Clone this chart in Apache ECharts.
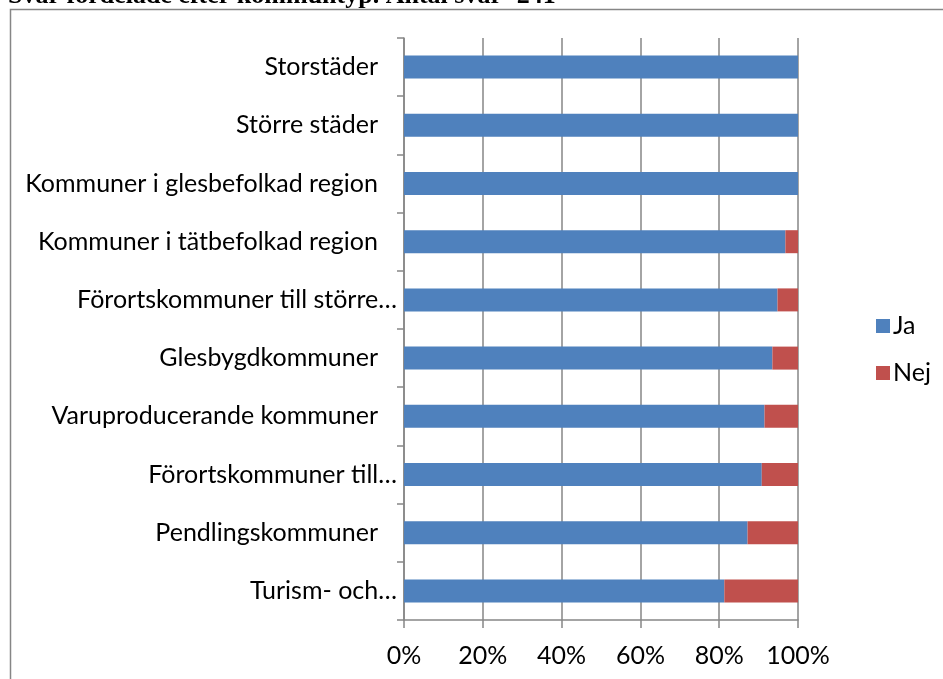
<!DOCTYPE html>
<html>
<head>
  <meta charset="utf-8">
  <title>Svar fördelade efter kommuntyp</title>
  <script src="https://cdn.jsdelivr.net/npm/echarts@6.0.0/dist/echarts.min.js"></script>
  <style>
    html, body { margin: 0; padding: 0; background: #fff; }
    #chart { width: 943px; height: 679px; }
  </style>
</head>
<body>
<div id="chart"></div>
<script>
// categories, top to bottom as shown
var categories = [
    "Storstäder",
    "Större städer",
    "Kommuner i glesbefolkad region",
    "Kommuner i tätbefolkad region",
    "Förortskommuner till större…",
    "Glesbygdkommuner",
    "Varuproducerande kommuner",
    "Förortskommuner till…",
    "Pendlingskommuner",
    "Turism- och…"
];
// share of answers, percent
var ja  = [100, 100, 100, 96.8, 94.8, 93.5, 91.5, 90.8, 87.2, 81.3];
var nej = [0, 0, 0, 3.2, 5.2, 6.5, 8.5, 9.2, 12.8, 18.7];
var xTicks = [0, 20, 40, 60, 80, 100];

var font = "Lato";
var gray = "#868686";
var size = 25;

var myChart = echarts.init(document.getElementById("chart"));
var option = {
    animation: false,
    textStyle: { fontFamily: font },
    grid: {
        left: 404,
        right: 145,
        top: 38,
        bottom: 59
    },
    graphic: [{
        type: "text",
        style: {
            x: 8,
            y: 9,
            text: "Svar fördelade efter kommuntyp. Antal svar=241",
            font: "bold 26px 'Liberation Serif'",
            fill: "#000",
            verticalAlign: "bottom"
        },
        silent: true
    }, {
        type: "rect",
        shape: { x: 10.5, y: 9.5, width: 1000, height: 1000 },
        style: { fill: "#fff", stroke: gray, lineWidth: 1.5 },
        silent: true,
        z: -10
    }],
    legend: {
        orient: "vertical",
        left: 871,
        top: 308,
        itemWidth: 14,
        itemHeight: 14,
        itemGap: 21,
        icon: "rect",
        textStyle: { fontFamily: font, fontSize: size, color: "#000", lineHeight: 26, padding: [0, 0, 0, -2] },
        data: ["Ja", "Nej"]
    },
    xAxis: {
        type: "value",
        min: xTicks[0],
        max: xTicks[xTicks.length - 1],
        interval: 20,
        axisLine: { show: true, lineStyle: { color: gray, width: 1.5 } },
        axisTick: { show: true, length: 8, lineStyle: { color: gray, width: 1.5 } },
        splitLine: { show: true, lineStyle: { color: gray, width: 1.5 } },
        axisLabel: {
            color: "#000",
            fontFamily: font,
            fontSize: size,
            margin: 23,
            formatter: function(v) { return v + "%"; }
        }
    },
    yAxis: {
        type: "category",
        inverse: true,
        data: categories,
        axisLine: { show: true, lineStyle: { color: gray, width: 1.5 } },
        axisTick: { show: true, length: 7, lineStyle: { color: gray, width: 1.5 } },
        axisLabel: {
            color: "#000",
            fontFamily: font,
            fontSize: size,
            margin: 7,
            formatter: function(v) {
                return v.slice(-1) === "…" ? "{t|" + v + "}" : "{f|" + v + "}";
            },
            rich: {
                t: { fontFamily: font, fontSize: size, color: "#000" },
                f: { fontFamily: font, fontSize: size, color: "#000", padding: [0, 19, 0, 0] }
            }
        }
    },
    series: [{
        name: "Ja",
        type: "bar",
        stack: "total",
        data: ja,
        barWidth: 23,
        itemStyle: { color: "#4F81BD" }
    }, {
        name: "Nej",
        type: "bar",
        stack: "total",
        data: nej,
        barWidth: 23,
        itemStyle: { color: "#C0504D" }
    }]
};
myChart.setOption(option);
</script>
</body>
</html>
